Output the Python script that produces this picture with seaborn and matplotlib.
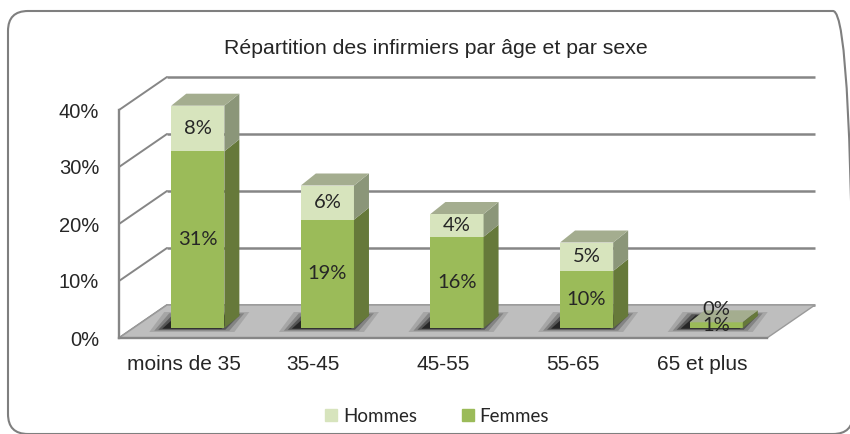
import pandas as pd
import seaborn as sns
import matplotlib.pyplot as plt
from matplotlib.patches import Polygon, Patch, FancyBboxPatch
from matplotlib.transforms import ScaledTranslation

# Données
categories = ["moins de 35", "35-45", "45-55", "55-65", "65 et plus"]
femmes = [31, 19, 16, 10, 1]
hommes = [8, 6, 4, 5, 0]
y_ticks = [0, 10, 20, 30, 40]
titre = "Répartition des infirmiers par âge et par sexe"

df = pd.DataFrame({"age": categories, "Femmes": femmes, "Hommes": hommes})
df["total"] = df["Femmes"] + df["Hommes"]

# Couleurs
fem_front, fem_side = "#9BBB59", "#66793A"
hom_front, hom_side, hom_top = "#D7E4BD", "#8B9679", "#A4AD8F"
grid = "#868686"

sns.set_style("white")
plt.rcParams["font.family"] = ["Liberation Sans", "DejaVu Sans"]

W, H = 850, 434
fig = plt.figure(figsize=(W / 100, H / 100), dpi=100)

# cadre arrondi
fig.patches.append(FancyBboxPatch((0.08, 0.0), 8.45, 4.23,
                                  boxstyle="round,pad=0,rounding_size=0.2",
                                  transform=fig.dpi_scale_trans, fc="none",
                                  ec="#7F7F7F", lw=1.5, zorder=0))

# plan avant du graphique (pixels)
x0, x1, y0, y1 = 119, 767, 338, 110
ax = fig.add_axes([x0 / W, 1 - y0 / H, (x1 - x0) / W, (y0 - y1) / H])
ax.set_xlim(-0.5, 4.5)
ax.set_ylim(0, 40)
px_x = (x1 - x0) / 5
px_y = (y0 - y1) / 40


def d(dx, dy):
    # décalage en pixels (y vers le bas) -> unités des données
    return dx / px_x, -dy / px_y


# barres empilées
sns.barplot(data=df, x="age", y="total", color=hom_front, saturation=1,
            width=0.41, linewidth=0, edgecolor="none", ax=ax, zorder=5)
sns.barplot(data=df, x="age", y="Femmes", color=fem_front, saturation=1,
            width=0.41, linewidth=0, edgecolor="none", ax=ax, zorder=5)
bars = list(ax.patches)
tot_bars, fem_bars = bars[:5], bars[5:10]

# décalages 3D
bx, by = d(48, -33)       # mur du fond
dx, dy = d(15, -12)       # profondeur des barres
tb = ax.transData + ScaledTranslation(0.14, 0.10, fig.dpi_scale_trans)

# murs et quadrillage
for v in y_ticks:
    ax.plot([-0.5 + bx, 4.5 + bx], [v + by, v + by], color=grid, lw=1.8,
            clip_on=False, zorder=1, solid_capstyle="butt")
    ax.plot([-0.5, -0.5 + bx], [v, v + by], color=grid, lw=1.4,
            clip_on=False, zorder=1)

# sol
ax.add_patch(Polygon([(-0.5, 0), (4.5, 0), (4.5 + bx, by), (-0.5 + bx, by)],
                     closed=True, fc="#BEBEBE", ec="#9A9A9A", lw=1,
                     clip_on=False, zorder=2))

for tot, fem, h in zip(tot_bars, fem_bars, hommes):
    xl = tot.get_x()
    xr = xl + tot.get_width()
    t = tot.get_height()
    f = fem.get_height()

    # ombre au pied de la barre
    for k, a in [(16, 0.12), (11, 0.2), (7, 0.35), (3, 0.55)]:
        ex, ey = d(k, -k * 0.25)
        sx, _ = d(-6, 0)
        ax.add_patch(Polygon([(xl - ex + sx, -ey), (xr + ex + sx, -ey),
                              (xr + dx + ex + sx, dy + ey), (xl + dx - ex + sx, dy + ey)],
                             closed=True, fc="black", ec="none", alpha=a,
                             transform=tb, clip_on=False, zorder=3))

    for p in (tot, fem):
        p.set_transform(tb)
        p.set_clip_on(False)

    # faces latérales et dessus
    ax.add_patch(Polygon([(xr, 0), (xr, f), (xr + dx, f + dy), (xr + dx, dy)],
                         closed=True, fc=fem_side, ec="none", transform=tb,
                         clip_on=False, zorder=5))
    ax.add_patch(Polygon([(xr, f), (xr, t), (xr + dx, t + dy), (xr + dx, f + dy)],
                         closed=True, fc=hom_side, ec="none", transform=tb,
                         clip_on=False, zorder=5))
    ax.add_patch(Polygon([(xl, t), (xr, t), (xr + dx, t + dy), (xl + dx, t + dy)],
                         closed=True, fc=hom_top, ec="none", transform=tb,
                         clip_on=False, zorder=5))

    # étiquettes
    xc = xl + tot.get_width() / 2
    ax.text(xc, f / 2, f"{f:.0f}%", ha="center", va="center", transform=tb,
            fontsize=14.5, family=["Lato", "DejaVu Sans"], zorder=6)
    yh = max(f + h / 2, f / 2 + 2.8)
    ax.text(xc, yh, f"{h}%", ha="center", va="center", transform=tb,
            fontsize=14.5, family=["Lato", "DejaVu Sans"], zorder=6)

# axes
for s in ["top", "right"]:
    ax.spines[s].set_visible(False)
for s in ["left", "bottom"]:
    ax.spines[s].set_color(grid)
    ax.spines[s].set_linewidth(1.7)
    ax.spines[s].set_zorder(4)

ax.set_yticks(y_ticks)
ax.set_yticklabels([f"{v}%" for v in y_ticks])
ax.tick_params(axis="y", length=4.3, width=1.7, color=grid, pad=10,
               labelsize=14.5)
ax.set_xticks(range(5))
ax.set_xticklabels(categories)
ax.set_xticks([i - 0.5 for i in range(6)], minor=True)
ax.tick_params(axis="x", which="major", length=0, pad=12, labelsize=15)
ax.tick_params(axis="x", which="minor", length=5, width=1.7, color=grid)
ax.set_xlabel("")
ax.set_ylabel("")
ax.patch.set_alpha(0)

# titre
fig.text(436 / W, 1 - 54 / H, titre, ha="center", va="baseline", fontsize=15.3)

# légende
fig.legend(handles=[Patch(color=hom_front, label="Hommes"),
                    Patch(color=fem_front, label="Femmes")],
           loc="center", bbox_to_anchor=(437 / W, 1 - 416 / H), ncol=2,
           frameon=False, handlelength=0.65, handleheight=0.65,
           handletextpad=0.3, columnspacing=2.4,
           prop={"family": ["Lato", "DejaVu Sans"], "size": 13.5})

fig.savefig("out.png", dpi=100)
